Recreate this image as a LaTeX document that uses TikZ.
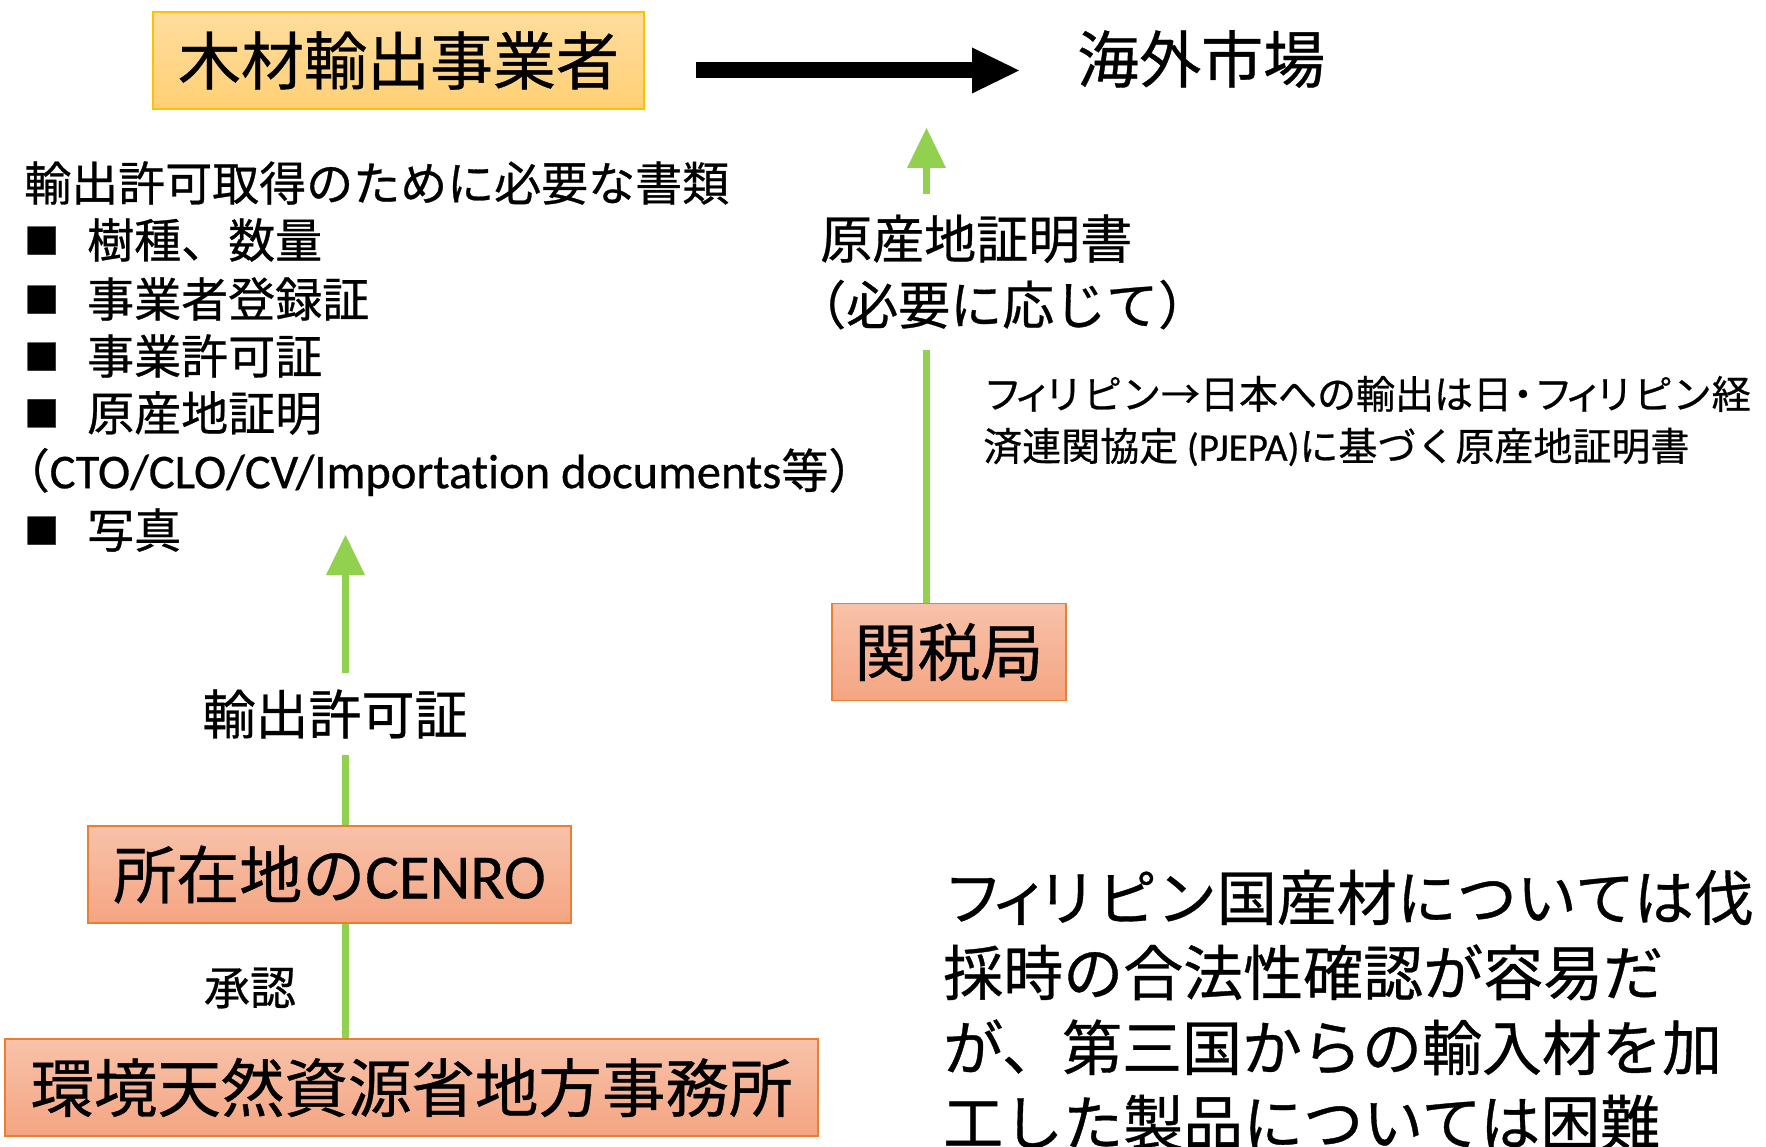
\documentclass[tikz,border=0pt]{standalone}
\usepackage{fontspec}
\setmainfont{Noto Sans CJK JP}[FakeBold=0.6]
\newfontfamily\lat{Carlito}[Ligatures=NoCommon, FakeBold=0.6]
\usepackage{xcolor}
\usetikzlibrary{arrows.meta, positioning}
\definecolor{boxorange}{RGB}{237, 125, 49}
\definecolor{peachtop}{RGB}{248, 194, 170}
\definecolor{peachbot}{RGB}{244, 165, 130}
\definecolor{goldline}{RGB}{255, 192, 0}
\definecolor{goldtop}{RGB}{255, 221, 158}
\definecolor{goldbot}{RGB}{255, 208, 117}
\definecolor{leafgreen}{RGB}{146, 208, 80}
\newcommand{\sz}[2]{\fontsize{#1}{#2}\selectfont}
\newcommand{\nk}[1]{\kern-.22em#1\kern-.22em}
\newcommand{\blt}{\raisebox{4pt}{\sz{35pt}{35pt}■}\hspace{28pt}}

\begin{document}
\begin{tikzpicture}[
    x=1pt, y=-1pt,
    exporterbox/.style={rectangle, draw=goldline, line width=2pt, top color=goldtop, bottom color=goldbot, minimum width=491pt, minimum height=97pt, inner sep=0pt, font=\sz{63pt}{74pt}},
    officebox/.style={rectangle, draw=boxorange, line width=1.5pt, top color=peachtop, bottom color=peachbot, minimum height=97pt, inner sep=0pt, font=\sz{63pt}{74pt}},
    listitem/.style={inner sep=0pt, anchor=west, font=\sz{47pt}{58pt}},
    greenline/.style={leafgreen, line width=7.5pt},
    greenarrow/.style={greenline, -{Triangle[width=39pt, length=40pt, line width=0pt]}},
    bigarrow/.style={line width=16pt, -{Triangle[width=46pt, length=47pt, line width=0pt]}}
]
\useasboundingbox (0,0) rectangle (1766,1147);

% top row
\node[exporterbox] (exporter) at (398.5,60.5) {木材輸出事業者};
\node[inner sep=0pt, anchor=west, font=\sz{62pt}{74pt}] (market) at (1077,59) {海外市場};

% documents list
\node[listitem] (docs) at (24,183) {輸出許可取得のために必要な書類};
\node[listitem] (species) at (24,240) {\blt 樹種、数量};
\node[listitem] (registration) at (24,299) {\blt 事業者登録証};
\node[listitem] (license) at (24,356) {\blt 事業許可証};
\node[listitem] (origincert) at (24,413) {\blt 原産地証明};
\node[listitem] (transport) at (26,472) {\hspace*{-.5em}（{\lat\sz{48.5pt}{58pt}CTO/CLO/CV/Importation documents}等）};
\node[listitem] (photo) at (24,530) {\blt 写真};

% left column
\node[font=\sz{53pt}{60pt}, inner xsep=0pt, inner ysep=16pt] (permit) at (335,714) {輸出許可証};
\node[officebox, minimum width=483pt] (cenro) at (329.5,874.5) {所在地の{\lat CENRO}};
\node[font=\sz{46pt}{54pt}, inner sep=0pt] (approval) at (250,988) {承認};
\node[officebox, minimum width=813pt, font=\sz{63.5pt}{74pt}] (denr) at (411.5,1087.5) {環境天然資源省地方事務所};

% right column
\node[officebox, minimum width=234pt] (customs) at (949,652) {関税局};
\node[align=left, anchor=west, font=\sz{52pt}{66pt}, inner xsep=0pt, inner ysep=20pt] (origin) at (820,272) {原産地証明書\\\hspace*{-.5em}（必要に応じて）};
\node[align=left, anchor=west, font=\sz{39pt}{52pt}, inner sep=0pt] (pjepa) at (983,421) {フ\nk{ィ}リピン→日本への輸出は日\nk{・}フ\nk{ィ}リピン経\\済連関協定 {\lat (PJEPA)}に基づく原産地証明書};
\node[align=left, anchor=west, font=\sz{60pt}{75pt}, inner sep=0pt] (remark) at (943,1010) {フ\nk{ィ}リピン国産材については伐\\採時の合法性確認が容易だ\\が、第三国からの輸入材を加\\工した製品については困難};

\coordinate (docstip) at (345.5,535);
\coordinate (origintip) at (926.5,128);

\draw[bigarrow, shorten <=51pt, shorten >=58pt] ([yshift=-10pt]exporter.east) -- ([yshift=-10pt]exporter.east -| market.west);

\draw[greenline] (docstip |- denr.north) -- (docstip |- cenro.south);
\draw[greenline] (docstip |- cenro.north) -- (docstip |- permit.south);
\draw[greenarrow] (docstip |- permit.north) -- (docstip);
\draw[greenline] (origintip |- customs.north) -- (origintip |- origin.south);
\draw[greenarrow] (origintip |- origin.north) -- (origintip);

\end{tikzpicture}
\end{document}
